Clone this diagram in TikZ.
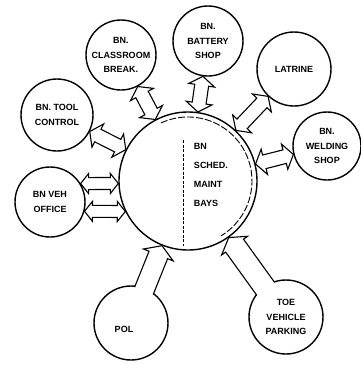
\documentclass[tikz,border=0pt]{standalone}
\usepackage{fontspec}
\setmainfont{Liberation Sans}
\usetikzlibrary{calc}
\newcommand\lbl{\fontsize{9}{14.5}\selectfont\bfseries}
\tikzset{
  room/.style={circle, draw, line width=1.4pt, fill=white, inner sep=0pt, font=\lbl, align=center},
  arr/.style={draw, line width=1.1pt, line join=miter},
  txt/.style={font=\lbl, align=center, inner sep=0pt},
}
% double-headed block arrow: from, to, shaft half width, head half width, head length
\newcommand\dblarrow[5]{%
  \path (#1) -- (#2) coordinate[pos=0] (bA) coordinate[pos=1] (bB);
  \coordinate (A1) at ($(bA)!#5!(bB)$);
  \coordinate (B1) at ($(bB)!#5!(bA)$);
  \draw[arr, fill=white] (bA) -- ($(A1)!#4!90:(bB)$) -- ($(A1)!#3!90:(bB)$)
     -- ($(B1)!#3!-90:(bA)$) -- ($(B1)!#4!-90:(bA)$) -- (bB)
     -- ($(B1)!#4!90:(bA)$) -- ($(B1)!#3!90:(bA)$)
     -- ($(A1)!#3!-90:(bB)$) -- ($(A1)!#4!-90:(bB)$) -- cycle;
}
% single-headed block arrow growing out of the first node
\newcommand\sglarrow[5]{%
  \path (#1) -- (#2) coordinate[pos=0] (bA) coordinate[pos=1] (bB);
  \coordinate (A0) at ($(bA)!-3pt!(bB)$);
  \coordinate (B1) at ($(bB)!#5!(bA)$);
  \fill[white] ($(A0)!#3!90:(bB)$) -- ($(B1)!#3!-90:(bA)$) -- ($(B1)!#4!-90:(bA)$) -- (bB)
     -- ($(B1)!#4!90:(bA)$) -- ($(B1)!#3!90:(bA)$) -- ($(A0)!#3!-90:(bB)$) -- cycle;
  \draw[arr] ($(A0)!#3!90:(bB)$) -- ($(B1)!#3!-90:(bA)$) -- ($(B1)!#4!-90:(bA)$) -- (bB)
     -- ($(B1)!#4!90:(bA)$) -- ($(B1)!#3!90:(bA)$) -- ($(A0)!#3!-90:(bB)$);
}
\begin{document}
\begin{tikzpicture}[x=1pt, y=-1pt]
\useasboundingbox[fill=white] (0,0) rectangle (361,365);

% central circle
\node[room, minimum size=138pt] (ctr) at (188,181) {};
\draw[line width=0.9pt, dash pattern=on 7pt off 2pt] (ctr.center) ++(-115:64) arc[start angle=-115, end angle=59, radius=64];
\draw[line width=0.8pt, dash pattern=on 3pt off 1.5pt] (183,140) -- (183,246);
\node[txt, align=left, font=\fontsize{9}{19}\selectfont\bfseries] (ctrlbl) at (211,175) {BN\\SCHED.\\MAINT\\BAYS};

% satellite rooms
\node[room, minimum size=70pt] (cls) at (121,55) {BN.\\CLASSROOM\\BREAK.};
\node[room, minimum size=70pt] (bat) at (208,41) {BN.\\BATTERY\\SHOP};
\node[room, minimum size=74pt] (lat) at (294,69) {LATRINE};
\node[room, minimum size=68pt] (wld) at (327,146) {BN.\\WELDING\\SHOP};
\node[room, minimum size=72pt] (tool) at (57,115) {BN. TOOL\\CONTROL};
\node[room, minimum size=70pt] (veh) at (50,202) {BN VEH\\OFFICE};
\node[room, minimum size=74pt] (pol) at (131,323) {};
\node[room, minimum size=74pt] (toe) at (286,317) {TOE\\VEHICLE\\PARKING};

% connectors
\dblarrow{cls}{ctr}{7pt}{13pt}{9pt}
\dblarrow{bat}{ctr}{7pt}{13pt}{9pt}
\dblarrow{lat}{ctr}{7pt}{13pt}{9pt}
\dblarrow{wld}{ctr}{7pt}{13pt}{9pt}
\dblarrow{tool}{ctr}{7pt}{13pt}{9pt}
\dblarrow{veh.31}{ctr.182}{6pt}{10pt}{8pt}
\dblarrow{veh.-15}{ctr.206}{6pt}{10pt}{8pt}
\sglarrow{pol}{ctr}{10pt}{16pt}{10pt}
\sglarrow{toe}{ctr}{11pt}{16pt}{10pt}

\node[txt] (pollbl) at (124,329) {POL};
\end{tikzpicture}
\end{document}
